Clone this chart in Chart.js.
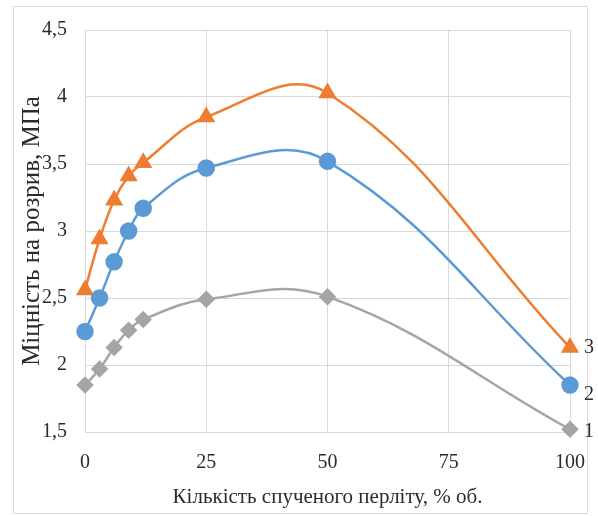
<!DOCTYPE html>
<html>
<head>
<meta charset="utf-8">
<script src="https://cdn.jsdelivr.net/npm/chart.js@4/dist/chart.umd.min.js"></script>
<style>
  html, body { margin: 0; padding: 0; background: #fff; }
</style>
</head>
<body>
<canvas id="chart" width="598" height="516"></canvas>
<script>
// вміст спученого перліту, % об.
const perlite = [0, 3, 6, 9, 12, 25, 50, 100];
// міцність на розрив, МПа
const strength1 = [1.85, 1.97, 2.13, 2.26, 2.34, 2.49, 2.51, 1.52];
const strength2 = [2.25, 2.50, 2.77, 3.00, 3.17, 3.47, 3.52, 1.85];
const strength3 = [2.56, 2.94, 3.23, 3.41, 3.51, 3.85, 4.03, 2.13];
const seriesLabels = ['1', '2', '3'];
const xTicks = [0, 25, 50, 75, 100];
const yTicks = [1.5, 2, 2.5, 3, 3.5, 4, 4.5];

const FONT = '"Liberation Serif", "Times New Roman", serif';
const TEXT = '#2b2b2b';
const GRID = '#d9d9d9';

function points(values) {
    return perlite.map((x, i) => ({ x: x, y: values[i] }));
}

// рамка навколо всього рисунка
const framePlugin = {
    id: 'frame',
    beforeDraw(chart) {
        const ctx = chart.ctx;
        ctx.save();
        ctx.fillStyle = '#fff';
        ctx.fillRect(0, 0, chart.width, chart.height);
        ctx.strokeStyle = '#dcdcdc';
        ctx.lineWidth = 1;
        ctx.strokeRect(13.5, 6.5, 574, 507);
        ctx.restore();
    }
};

// номери кривих праворуч від останньої точки
const labelOffsets = [2, 10, 0];
const endLabelsPlugin = {
    id: 'endLabels',
    afterDatasetsDraw(chart) {
        const ctx = chart.ctx;
        ctx.save();
        ctx.font = '20px ' + FONT;
        ctx.fillStyle = TEXT;
        ctx.textAlign = 'left';
        ctx.textBaseline = 'middle';
        chart.data.datasets.forEach((ds, i) => {
            const meta = chart.getDatasetMeta(i);
            const last = meta.data[meta.data.length - 1];
            ctx.fillText(ds.label, last.x + 14, last.y + labelOffsets[i]);
        });
        ctx.restore();
    }
};

new Chart(document.getElementById('chart'), {
    type: 'line',
    data: {
        datasets: [
            {
                label: seriesLabels[0],
                data: points(strength1),
                borderColor: '#a5a5a5',
                backgroundColor: '#a5a5a5',
                pointStyle: 'rectRot',
                pointRadius: 7,
                borderWidth: 2.5
            },
            {
                label: seriesLabels[1],
                data: points(strength2),
                borderColor: '#5b9bd5',
                backgroundColor: '#5b9bd5',
                pointStyle: 'circle',
                pointRadius: 7.5,
                borderWidth: 2.5
            },
            {
                label: seriesLabels[2],
                data: points(strength3),
                borderColor: '#ed7d31',
                backgroundColor: '#ed7d31',
                pointStyle: 'triangle',
                pointRadius: 8,
                borderWidth: 2.5
            }
        ]
    },
    options: {
        responsive: false,
        animation: false,
        clip: false,
        elements: {
            line: { tension: 0.4, fill: false },
            point: { borderWidth: 0 }
        },
        layout: { padding: { left: 13, top: 28, right: 28, bottom: 0 } },
        plugins: {
            legend: { display: false },
            tooltip: { enabled: false }
        },
        scales: {
            x: {
                type: 'linear',
                min: 0,
                max: 100,
                afterBuildTicks: s => { s.ticks = xTicks.map(v => ({ value: v })); },
                afterFit: s => {
                    s.height = 84;
                    s.paddingLeft = 0;
                    s.paddingRight = 0;
                },
                grid: { color: GRID, drawTicks: false, lineWidth: 1 },
                border: { color: GRID },
                ticks: {
                    padding: 19,
                    color: TEXT,
                    font: { family: FONT, size: 20 },
                    maxRotation: 0
                },
                title: {
                    display: true,
                    text: 'Кількість спученого перліту, % об.',
                    color: TEXT,
                    font: { family: FONT, size: 21 },
                    padding: { top: 0, bottom: 6 }
                }
            },
            y: {
                min: 1.5,
                max: 4.5,
                afterBuildTicks: s => { s.ticks = yTicks.map(v => ({ value: v })); },
                afterFit: s => { s.width = 72; },
                grid: { color: GRID, drawTicks: false, lineWidth: 1 },
                border: { color: GRID },
                ticks: {
                    padding: 18,
                    color: TEXT,
                    font: { family: FONT, size: 20 },
                    callback: v => String(v).replace('.', ',')
                },
                title: {
                    display: true,
                    text: 'Міцність на розрив, МПа',
                    color: TEXT,
                    font: { family: FONT, size: 25 },
                    padding: { top: 4, bottom: 0 }
                }
            }
        }
    },
    plugins: [framePlugin, endLabelsPlugin]
});
</script>
</body>
</html>
